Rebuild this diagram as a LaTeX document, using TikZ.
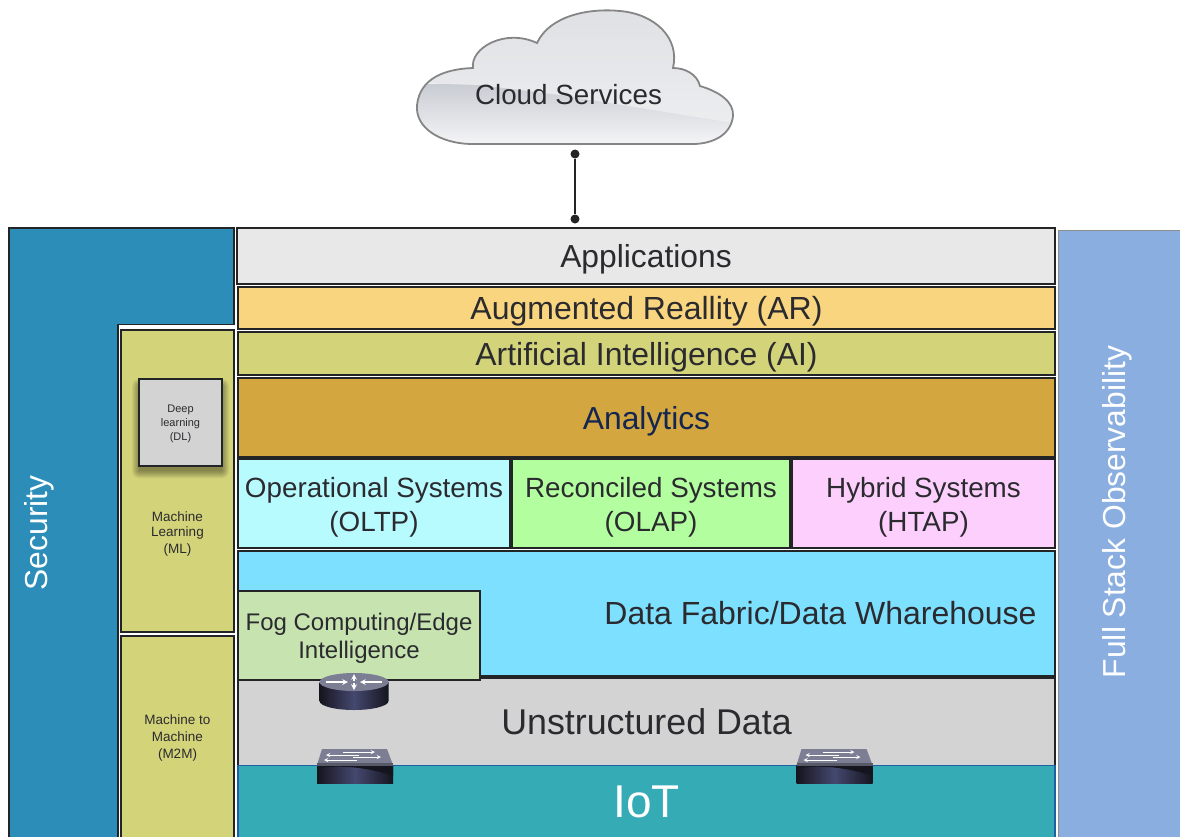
\documentclass[tikz,border=0pt]{standalone}
\usepackage{fontspec}
\setmainfont{Liberation Sans}
\usetikzlibrary{calc}
\definecolor{ink}{HTML}{2B2B2F}
\definecolor{edge}{HTML}{222426}
\definecolor{secblue}{HTML}{2B8DB8}
\definecolor{olive}{HTML}{D3D37A}
\definecolor{appgrey}{HTML}{E8E8E8}
\definecolor{arorange}{HTML}{F9D57F}
\definecolor{anaorange}{HTML}{D4A640}
\definecolor{oltpc}{HTML}{B8FBFF}
\definecolor{olapc}{HTML}{B3FF9F}
\definecolor{htapc}{HTML}{FCCFFC}
\definecolor{fabricc}{HTML}{7DE0FF}
\definecolor{fogc}{HTML}{C6E3B0}
\definecolor{unstrc}{HTML}{D3D3D3}
\definecolor{iotc}{HTML}{35ABB6}
\definecolor{obsc}{HTML}{8AAEE0}
\definecolor{navy}{HTML}{14264F}
\definecolor{devdark}{HTML}{15151F}
\definecolor{devmid}{HTML}{45486F}
\definecolor{devtop}{HTML}{7C7E94}
\definecolor{cloudA}{HTML}{DEE0E3}
\definecolor{cloudB}{HTML}{ECEDEF}
\definecolor{cloudC}{HTML}{C9CCD3}
\definecolor{cloudD}{HTML}{F6F6F8}
\newcommand\fs[1]{\fontsize{#1}{#1}\selectfont}
\tikzset{
  layer/.style={draw=edge,line width=1.3pt,inner sep=0pt,anchor=center},
  label/.style={inner sep=0pt,align=center,text=ink},
  dotend/.style={circle,fill=edge,draw=none,minimum size=9pt,inner sep=0pt},
  wire/.style={draw=edge,line width=1.6pt},
  devarrow/.style={white,line width=1.5pt},
  cloudpath/.style={},
}
% name, x0, y0, x1, y1, box options, text options, text
\newcommand\pxbox[8]{%
  \pgfmathsetmacro\bw{#4-#2}\pgfmathsetmacro\bh{#5-#3}%
  \pgfmathsetmacro\bx{(#2+#4)/2}\pgfmathsetmacro\by{(#3+#5)/2}%
  \node[layer,minimum width=\bw pt,minimum height=\bh pt,#6] (#1) at (\bx,\by) {};
  \node[label,#7] (#1 text) at (#1.center) {#8};}
\newcommand\netswitch[1]{%
  \begin{scope}[shift={(#1,0)}]
    \fill[devtop] (5,749) -- (70,749) -- (76,765) -- (0,765) -- cycle;
    \shade[left color=devdark,right color=devdark,middle color=devmid] (0,765) rectangle (76,783);
    \fill[devdark] (0,765) -- (76,765) -- (76,776) .. controls (50,767) and (25,765) .. (0,768) -- cycle;
    \fill[devtop!70!black] (0,763) rectangle (76,766);
    \draw[devarrow,->,>=stealth,line width=.9pt] (26,752) -- (58,752);
    \draw[devarrow,<-,>=stealth,line width=.9pt] (9,755) -- (42,755);
    \draw[devarrow,->,>=stealth,line width=.9pt] (36,757) -- (64,757);
    \draw[devarrow,<-,>=stealth,line width=.9pt] (7,760) -- (40,760);
  \end{scope}}
\newcommand\cloudoutline{(417,105) .. controls (420,78) and (445,69) .. (473,68)
    .. controls (470,48) and (505,28) .. (537,43)
    .. controls (550,15) and (590,8) .. (620,11)
    .. controls (655,14) and (680,38) .. (673,68)
    .. controls (685,68) and (697,74) .. (700,86)
    .. controls (720,92) and (734,102) .. (733,116)
    .. controls (731,134) and (715,143) .. (695,144)
    -- (470,144) .. controls (440,143) and (415,128) .. (417,105) -- cycle}
\begin{document}
\begin{tikzpicture}[x=1pt,y=-1pt]
\useasboundingbox (0,0) rectangle (1180,836);
\clip (0,0) rectangle (1180,836);
% cloud
\begin{scope}
  \clip \cloudoutline;
  \shade[top color=cloudC,bottom color=cloudD] (410,84) rectangle (740,146);
  \shade[top color=cloudA,bottom color=cloudB] (410,5) -- (740,5) -- (740,124) -- (560,95) -- (480,85) -- (410,83) -- cycle;
\end{scope}
\draw[draw=black!48,line width=1.8pt] \cloudoutline;
\node[label] (cloud) at (568.5,95) {\fs{27.8}Cloud Services};
\node[dotend] (top) at (575,154) {};
\node[dotend] (bot) at (575,219) {};
\draw[wire] (top) -- (bot);
% security L shape
\draw[fill=secblue,draw=edge,line width=1.3pt] (9,228) -- (234,228) -- (234,324.5) -- (118,324.5) -- (118,840) -- (9,840) -- cycle;
\node[label,rotate=90,text=white] (sec) at (39,533) {\fs{31.8}Security};
% observability
\pxbox{obs}{1058}{230}{1190}{846}{fill=obsc,draw=black!45,line width=.8pt}{}{}
\node[label,rotate=90,text=white] (obstext) at (1117,512) {\fs{31.8}Full Stack Observability};
% ML column
\pxbox{ml}{121}{330}{234}{632}{fill=olive}{}{}
\node[label] (mltext) at (177.5,534) {\fs{13.5}Machine\\[3pt]\fs{13.5}Learning\\[3pt]\fs{13.5}(ML)};
\pxbox{mm}{121}{636}{234}{850}{fill=olive}{}{}
\node[label] (mmtext) at (177.5,738) {\fs{13.5}Machine to\\[5pt]\fs{13.5}Machine\\[5pt]\fs{13.5}(M2M)};
% DL with soft shadow
\foreach \i in {0,...,7}
  \fill[black,opacity=.05,rounded corners=\i pt] ({139-\i},{386-\i}) rectangle ({222+\i},{471+\i});
\pxbox{dl}{139}{379}{222}{466}{fill=unstrc}{yshift=-1.5pt}{\fs{11}Deep\\[2pt]\fs{11}learning\\[2pt]\fs{11}(DL)}
% layers
\pxbox{app}{237}{228}{1055}{284}{fill=appgrey}{yshift=-3.5pt}{\fs{31.8}Applications}
\pxbox{ar}{238}{287}{1055}{329}{fill=arorange}{yshift=-3pt}{\fs{32}Augmented Reallity (AR)}
\pxbox{ai}{238}{332}{1055}{375}{fill=olive}{yshift=-3.5pt}{\fs{31.9}Artificial Intelligence (AI)}
\pxbox{ana}{238}{378}{1055}{457}{fill=anaorange}{yshift=-3.5pt,text=navy}{\fs{31.8}Analytics}
\pxbox{oltp}{238}{459}{510}{548}{fill=oltpc}{yshift=-3.5pt}{\fs{27.8}Operational Systems\\[7pt]\fs{27.8}(OLTP)}
\pxbox{olap}{512}{459}{790}{548}{fill=olapc}{yshift=-3.5pt}{\fs{27.8}Reconciled Systems\\[7pt]\fs{27.8}(OLAP)}
\pxbox{htap}{792}{459}{1055}{548}{fill=htapc}{yshift=-3.5pt}{\fs{27.8}Hybrid Systems\\[7pt]\fs{27.8}(HTAP)}
\pxbox{fabric}{238}{551}{1055}{676}{fill=fabricc}{}{}
\node[label] (fabrictext) at (820.5,613) {\fs{32}Data Fabric/Data Wharehouse};
\pxbox{unstr}{238}{678}{1055}{766}{fill=unstrc}{}{\fs{35.8}Unstructured Data}
\pxbox{fog}{238}{591}{480}{680}{fill=fogc,line width=2pt}{yshift=-3pt}{\fs{24}Fog Computing/Edge\\[5pt]\fs{24}Intelligence}
\pxbox{iot}{238}{765.5}{1055}{846}{fill=iotc,draw=iotc!70!blue!80!black}{}{}
\node[label,text=white] (iottext) at (646.5,802) {\fs{46}IoT};
% router
\shade[left color=devdark,right color=devdark,middle color=devmid]
  (319.5,682) -- (319.5,701) arc[start angle=180,end angle=0,x radius=34.5,y radius=9] -- (388.5,682) -- cycle;
\fill[devtop] (354,682) ellipse[x radius=34.5,y radius=9];
\draw[devarrow,->,>=stealth] (326,682) -- (348,682);
\draw[devarrow,->,>=stealth] (382,682) -- (360,682);
\draw[devarrow,->,>=stealth] (354,681) -- (354,674);
\draw[devarrow,->,>=stealth] (354,683) -- (354,690);
% switches
\netswitch{317}
\netswitch{796.5}
\end{tikzpicture}
\end{document}
